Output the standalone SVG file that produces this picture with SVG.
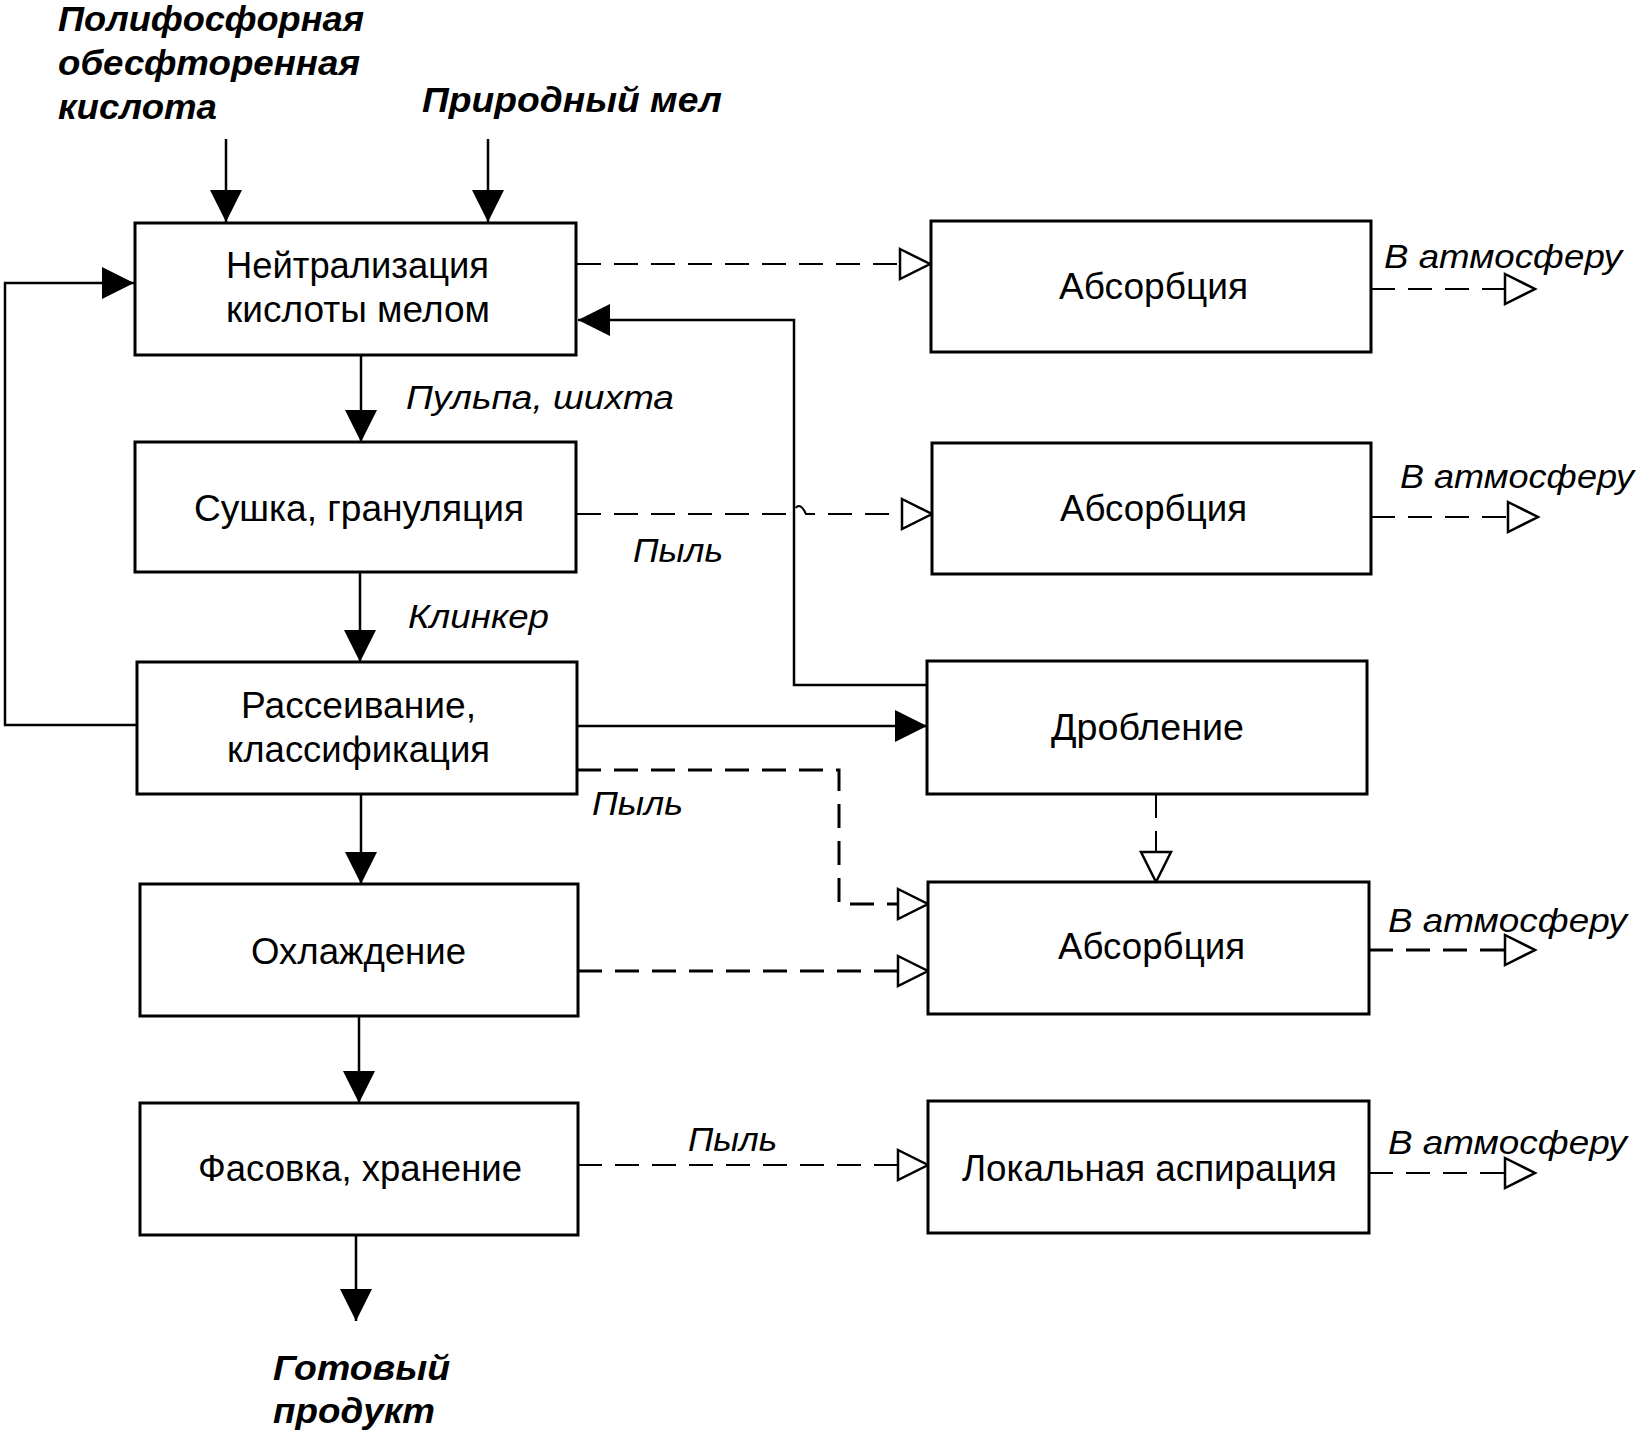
<svg xmlns="http://www.w3.org/2000/svg" width="1642" height="1434" viewBox="0 0 1642 1434">
<style>
.box{fill:#fff;stroke:#000;stroke-width:3}
.t{font-family:"Liberation Sans",Arial,sans-serif;font-size:36px;fill:#000}
.i{font-family:"Liberation Sans",Arial,sans-serif;font-size:34px;font-style:italic;fill:#000}
.b{font-family:"Liberation Sans",Arial,sans-serif;font-size:35px;font-style:italic;font-weight:bold;fill:#000}
.s{fill:none;stroke:#000;stroke-width:2.5}
.d{fill:none;stroke:#000;stroke-width:2;stroke-dasharray:24 13}
.dt{fill:none;stroke:#000;stroke-width:3;stroke-dasharray:24 13}
</style>
<defs>
<marker id="fa" markerUnits="userSpaceOnUse" markerWidth="32" markerHeight="32" viewBox="0 0 30 30" refX="30" refY="15" orient="auto" overflow="visible">
<path d="M0,0 L30,15 L0,30 Z" fill="#000" stroke="none"/>
</marker>
<marker id="oa" markerUnits="userSpaceOnUse" markerWidth="34" markerHeight="34" viewBox="0 0 34 34" refX="32" refY="17" orient="auto" overflow="visible">
<path d="M2,2 L32,17 L2,32 Z" fill="#fff" stroke="#000" stroke-width="2.5" stroke-dasharray="none"/>
</marker>
</defs>
<rect width="1642" height="1434" fill="#fff"/>

<g id="connectors">
<path class="s" d="M226,139 V222" marker-end="url(#fa)"/>
<path class="s" d="M488,139 V222" marker-end="url(#fa)"/>
<path class="s" d="M361,355 V442" stroke-width="3" marker-end="url(#fa)"/>
<path class="s" d="M360,572 V662" marker-end="url(#fa)"/>
<path class="s" d="M361,794 V884" stroke-width="3" marker-end="url(#fa)"/>
<path class="s" d="M359,1016 V1103" marker-end="url(#fa)"/>
<path class="s" d="M356,1235 V1321" marker-end="url(#fa)"/>
<path class="s" d="M137,725 H5 V283 H134" marker-end="url(#fa)"/>
<path class="s" d="M927,685 H794 V320 H578" marker-end="url(#fa)"/>
<path class="s" d="M577,726 H927" stroke-width="3" marker-end="url(#fa)"/>
<path class="d" d="M577,264 H930" marker-end="url(#oa)"/>
<path class="d" d="M577,514 H792 Q799,498 806,514 H932" marker-end="url(#oa)"/>
<path class="dt" d="M577,770 H839 V904 H928" marker-end="url(#oa)"/>
<path class="dt" d="M578,971 H928" marker-end="url(#oa)"/>
<path class="d" d="M1156,794 V882" marker-end="url(#oa)"/>
<path class="d" d="M578,1165 H928" marker-end="url(#oa)"/>
<path class="d" d="M1371,289 H1535" marker-end="url(#oa)"/>
<path class="d" d="M1371,517 H1538" marker-end="url(#oa)"/>
<path class="dt" d="M1369,950 H1535" marker-end="url(#oa)"/>
<path class="d" d="M1369,1173 H1535" marker-end="url(#oa)"/>
</g>

<g id="inputs">
<text class="b" x="58" y="31" textLength="306" lengthAdjust="spacingAndGlyphs">Полифосфорная</text>
<text class="b" x="58" y="75" textLength="302" lengthAdjust="spacingAndGlyphs">обесфторенная</text>
<text class="b" x="58" y="119" textLength="159" lengthAdjust="spacingAndGlyphs">кислота</text>
<text class="b" x="422" y="112" textLength="300" lengthAdjust="spacingAndGlyphs">Природный мел</text>
</g>

<g id="n-neutral">
<rect class="box" x="135" y="223" width="441" height="132"/>
<text class="t" x="226" y="278" textLength="263" lengthAdjust="spacingAndGlyphs">Нейтрализация</text>
<text class="t" x="226" y="322" textLength="264" lengthAdjust="spacingAndGlyphs">кислоты мелом</text>
</g>
<g id="n-dry">
<rect class="box" x="135" y="442" width="441" height="130"/>
<text class="t" x="194" y="521" textLength="330" lengthAdjust="spacingAndGlyphs">Сушка, грануляция</text>
</g>
<g id="n-sieve">
<rect class="box" x="137" y="662" width="440" height="132"/>
<text class="t" x="241" y="718" textLength="235" lengthAdjust="spacingAndGlyphs">Рассеивание,</text>
<text class="t" x="227" y="762" textLength="263" lengthAdjust="spacingAndGlyphs">классификация</text>
</g>
<g id="n-cool">
<rect class="box" x="140" y="884" width="438" height="132"/>
<text class="t" x="251" y="964" textLength="215" lengthAdjust="spacingAndGlyphs">Охлаждение</text>
</g>
<g id="n-pack">
<rect class="box" x="140" y="1103" width="438" height="132"/>
<text class="t" x="198" y="1181" textLength="324" lengthAdjust="spacingAndGlyphs">Фасовка, хранение</text>
</g>
<g id="n-abs1">
<rect class="box" x="931" y="221" width="440" height="131"/>
<text class="t" x="1059" y="299" textLength="189" lengthAdjust="spacingAndGlyphs">Абсорбция</text>
</g>
<g id="n-abs2">
<rect class="box" x="932" y="443" width="439" height="131"/>
<text class="t" x="1060" y="521" textLength="187" lengthAdjust="spacingAndGlyphs">Абсорбция</text>
</g>
<g id="n-crush">
<rect class="box" x="927" y="661" width="440" height="133"/>
<text class="t" x="1051" y="740" textLength="193" lengthAdjust="spacingAndGlyphs">Дробление</text>
</g>
<g id="n-abs3">
<rect class="box" x="928" y="882" width="441" height="132"/>
<text class="t" x="1058" y="959" textLength="187" lengthAdjust="spacingAndGlyphs">Абсорбция</text>
</g>
<g id="n-asp">
<rect class="box" x="928" y="1101" width="441" height="132"/>
<text class="t" x="962" y="1181" textLength="375" lengthAdjust="spacingAndGlyphs">Локальная аспирация</text>
</g>

<g id="labels">
<text class="i" x="406" y="409" textLength="268" lengthAdjust="spacingAndGlyphs">Пульпа, шихта</text>
<text class="i" x="633" y="562" textLength="90" lengthAdjust="spacingAndGlyphs">Пыль</text>
<text class="i" x="408" y="628" textLength="141" lengthAdjust="spacingAndGlyphs">Клинкер</text>
<text class="i" x="592" y="815" textLength="91" lengthAdjust="spacingAndGlyphs">Пыль</text>
<text class="i" x="688" y="1151" textLength="89" lengthAdjust="spacingAndGlyphs">Пыль</text>
<text class="i" x="1384" y="268" textLength="238" lengthAdjust="spacingAndGlyphs">В атмосферу</text>
<text class="i" x="1400" y="488" textLength="234" lengthAdjust="spacingAndGlyphs">В атмосферу</text>
<text class="i" x="1388" y="932" textLength="239" lengthAdjust="spacingAndGlyphs">В атмосферу</text>
<text class="i" x="1388" y="1154" textLength="239" lengthAdjust="spacingAndGlyphs">В атмосферу</text>
</g>

<g id="output">
<text class="b" x="273" y="1380" textLength="177" lengthAdjust="spacingAndGlyphs">Готовый</text>
<text class="b" x="273" y="1423" textLength="162" lengthAdjust="spacingAndGlyphs">продукт</text>
</g>
</svg>
